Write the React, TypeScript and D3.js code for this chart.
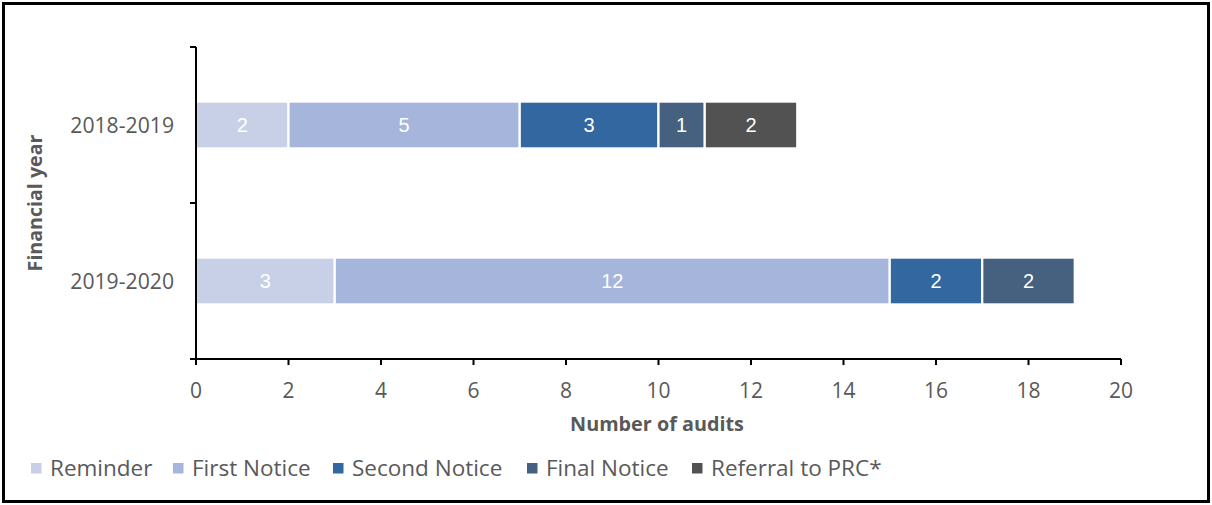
import React, { useEffect, useRef } from "react";
import * as d3 from "d3";

const years = ["2018-2019", "2019-2020"];
const seriesNames = ["Reminder", "First Notice", "Second Notice", "Final Notice", "Referral to PRC*"];
const colors = ["#C8D0E7", "#A6B5DC", "#33679F", "#46607F", "#525252"];
const reminder = [2, 3];
const firstNotice = [5, 12];
const secondNotice = [3, 2];
const finalNotice = [1, 2];
const referral = [2, 0];
const xTicks = [0, 2, 4, 6, 8, 10, 12, 14, 16, 18, 20];

const W = 1212;
const H = 505;
const FONT = "'Open Sans', 'Noto Sans', sans-serif";

export default function App() {
  const ref = useRef<SVGSVGElement>(null);

  useEffect(() => {
    const svg = d3.select(ref.current);
    svg.selectAll("*").remove();

    const left = 196, right = 1121, top = 47, bottom = 359;

    // frame
    svg.append("rect").attr("x", 3.5).attr("y", 3.5).attr("width", W - 7).attr("height", H - 7)
      .attr("fill", "#fff").attr("stroke", "#000").attr("stroke-width", 3);

    const x = d3.scaleLinear().domain([0, 20]).range([left, right]);
    const y = d3.scaleBand().domain(years).range([top, bottom]).paddingInner(0.7).paddingOuter(0.35);

    const table = years.map((yr, i) => ({
      year: yr,
      "Reminder": reminder[i],
      "First Notice": firstNotice[i],
      "Second Notice": secondNotice[i],
      "Final Notice": finalNotice[i],
      "Referral to PRC*": referral[i],
    }));
    const stacked = d3.stack<any>().keys(seriesNames)(table);

    const g = svg.append("g");
    stacked.forEach((layer, si) => {
      layer.forEach((d: any) => {
        const v = d[1] - d[0];
        if (v <= 0) return;
        const yr = d.data.year;
        const x0 = x(d[0]), x1 = x(d[1]);
        const y0 = y(yr)!;
        g.append("rect")
          .attr("x", x0).attr("y", y0)
          .attr("width", x1 - x0).attr("height", y.bandwidth())
          .attr("fill", colors[si])
          .attr("stroke", "#fff").attr("stroke-width", 2.2);
        g.append("text")
          .attr("x", (x0 + x1) / 2).attr("y", y0 + y.bandwidth() / 2)
          .attr("dy", "0.36em").attr("text-anchor", "middle")
          .attr("fill", "#fff").attr("font-family", "'Liberation Sans', Arial, sans-serif")
          .attr("font-size", 20).text(String(v));
      });
    });

    // y axis
    const ax = svg.append("g").attr("stroke", "#000").attr("stroke-width", 2);
    ax.append("line").attr("x1", left).attr("x2", left).attr("y1", top).attr("y2", bottom);
    [top, (top + bottom) / 2, bottom].forEach((ty) => {
      ax.append("line").attr("x1", left - 6).attr("x2", left).attr("y1", ty).attr("y2", ty);
    });
    // x axis
    ax.append("line").attr("x1", left - 6).attr("x2", right).attr("y1", bottom).attr("y2", bottom);
    xTicks.forEach((t) => {
      ax.append("line").attr("x1", x(t)).attr("x2", x(t)).attr("y1", bottom).attr("y2", bottom + 6);
    });

    xTicks.forEach((t) => {
      svg.append("text").attr("x", x(t)).attr("y", 398).attr("text-anchor", "middle")
        .attr("font-family", FONT).attr("font-size", 21).attr("fill", "#595959").text(String(t));
    });
    years.forEach((yr) => {
      svg.append("text").attr("x", 174).attr("y", y(yr)! + y.bandwidth() / 2).attr("dy", "0.36em")
        .attr("text-anchor", "end").attr("font-family", FONT).attr("font-size", 21.2)
        .attr("fill", "#595959").text(yr);
    });

    svg.append("text").attr("x", 657).attr("y", 431).attr("text-anchor", "middle")
      .attr("font-family", FONT).attr("font-size", 19.8).attr("font-weight", "bold")
      .attr("fill", "#595959").text("Number of audits");
    svg.append("text").attr("transform", `translate(42,${(top + bottom) / 2}) rotate(-90)`)
      .attr("text-anchor", "middle").attr("font-family", FONT).attr("font-size", 19.6)
      .attr("font-weight", "bold").attr("fill", "#595959").text("Financial year");

    // legend
    const legendX = [31, 173, 333, 527, 692];
    seriesNames.forEach((name, i) => {
      svg.append("rect").attr("x", legendX[i]).attr("y", 463).attr("width", 10.5).attr("height", 10.5)
        .attr("fill", colors[i]);
      svg.append("text").attr("x", legendX[i] + 19).attr("y", 468).attr("dy", "0.36em")
        .attr("font-family", FONT).attr("font-size", 22.5).attr("fill", "#595959").text(name);
    });
  }, []);

  return <svg ref={ref} width={W} height={H} style={{ display: "block", position: "absolute", left: 0, top: 0 }} />;
}
